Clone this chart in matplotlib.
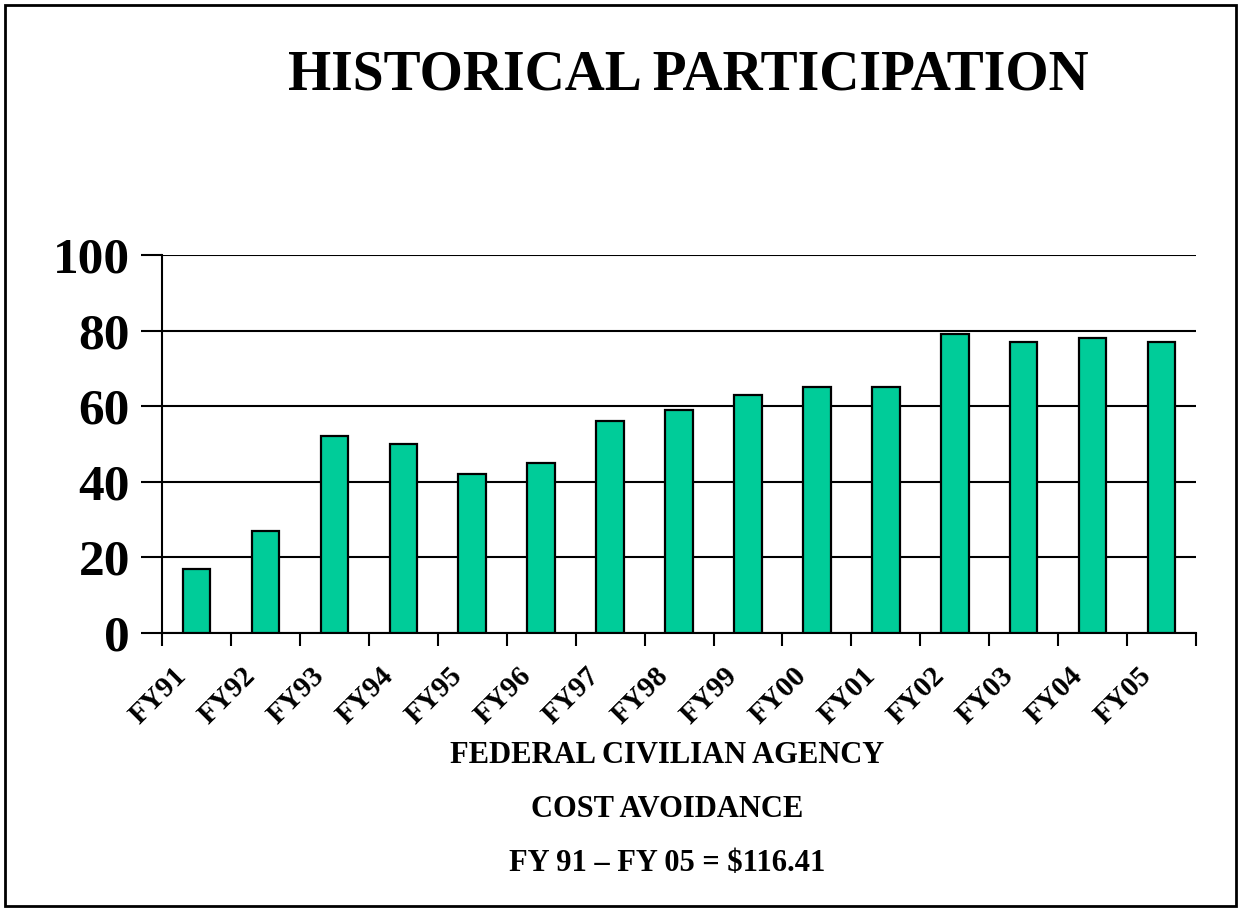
import numpy as np
import matplotlib
matplotlib.use("Agg")
from matplotlib import pyplot as plt
from matplotlib.patches import Rectangle
from matplotlib.transforms import ScaledTranslation

# fiscal years and participation values
years = ['FY91', 'FY92', 'FY93', 'FY94', 'FY95', 'FY96', 'FY97', 'FY98',
         'FY99', 'FY00', 'FY01', 'FY02', 'FY03', 'FY04', 'FY05']
participation = [17, 27, 52, 50, 42, 45, 56, 59, 63, 65, 65, 79, 77, 78, 77]
yticks = [0, 20, 40, 60, 80, 100]

plt.rcParams['font.family'] = ['Liberation Serif', 'DejaVu Serif']
plt.rcParams['font.weight'] = 'bold'

fig = plt.figure(figsize=(12.38, 9.08), dpi=100)
ax = fig.add_axes([0.1309, 0.3029, 0.8352, 0.4163])

x = np.arange(len(years))
ax.bar(x, participation, width=0.4, color='#00CC99', edgecolor='black',
       linewidth=1.6, zorder=3)

ax.set_xlim(-0.5, len(years) - 0.5)
ax.set_ylim(0, 100)
ax.set_yticks(yticks)
ax.set_yticklabels([str(t) for t in yticks], fontsize=37, fontweight='bold')
ax.yaxis.grid(True, color='black', linewidth=1.5, zorder=0)
ax.tick_params(axis='y', length=15, width=1.5, pad=8)

# ticks between categories, labels under bars
ax.set_xticks(np.arange(len(years) + 1) - 0.5)
ax.set_xticklabels([])
ax.set_xticks(x, minor=True)
ax.set_xticklabels(years, minor=True, rotation=45, ha='right',
                   rotation_mode='anchor', fontsize=21, fontweight='bold')
ax.tick_params(axis='x', which='major', length=9, width=1.5, direction='out')
ax.tick_params(axis='x', which='minor', length=0, pad=21)
shift = ScaledTranslation(-0.24, 0, fig.dpi_scale_trans)
for lbl in ax.get_xticklabels(minor=True):
    lbl.set_transform(lbl.get_transform() + shift)

for s in ['top', 'right']:
    ax.spines[s].set_visible(False)
ax.spines['left'].set_linewidth(1.5)
ax.spines['bottom'].set_linewidth(1.5)

fig.text(0.556, 0.917, 'HISTORICAL PARTICIPATION', ha='center', va='center',
         fontsize=40, fontweight='bold')
fig.text(0.539, 0.168, 'FEDERAL CIVILIAN AGENCY', ha='center', va='center',
         fontsize=22, fontweight='bold')
fig.text(0.539, 0.108, 'COST AVOIDANCE', ha='center', va='center',
         fontsize=22, fontweight='bold')
fig.text(0.539, 0.049, 'FY 91 \u2013 FY 05 = $116.41', ha='center', va='center',
         fontsize=22, fontweight='bold')

# outer frame
fig.patches.append(Rectangle((5 / 1238, 2 / 908), 1231 / 1238, 901 / 908,
                             transform=fig.transFigure, fill=False,
                             edgecolor='black', linewidth=2))

fig.savefig('out.png', dpi=100)
